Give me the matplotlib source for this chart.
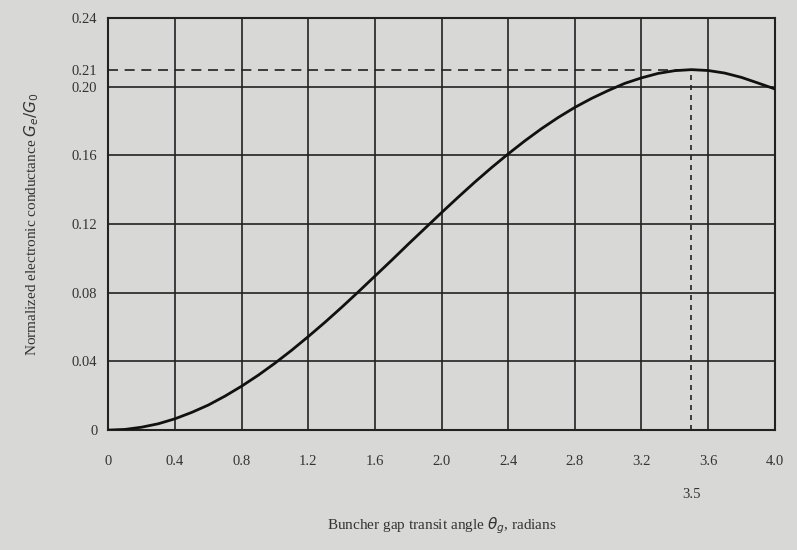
import matplotlib
matplotlib.use("Agg")
import matplotlib.pyplot as plt

# Data
theta = [0.0, 0.1, 0.2, 0.3, 0.4, 0.5, 0.6, 0.7, 0.8, 0.9, 1.0, 1.1, 1.2,
         1.3, 1.4, 1.5, 1.6, 1.7, 1.8, 1.9, 2.0, 2.1, 2.2, 2.3, 2.4, 2.5,
         2.6, 2.7, 2.8, 2.9, 3.0, 3.1, 3.2, 3.3, 3.4, 3.5, 3.6, 3.7, 3.8,
         3.9, 4.0]
conductance = [0.0, 0.0004, 0.0017, 0.0037, 0.0066, 0.0103, 0.0146, 0.0198,
               0.0256, 0.0320, 0.0390, 0.0465, 0.0545, 0.0628, 0.0715,
               0.0805, 0.0897, 0.0989, 0.1083, 0.1175, 0.1267, 0.1357,
               0.1445, 0.1529, 0.1609, 0.1685, 0.1756, 0.1821, 0.1880,
               0.1932, 0.1978, 0.2020, 0.2052, 0.2078, 0.2094, 0.2100,
               0.2095, 0.2080, 0.2055, 0.2022, 0.1988]
x_ticks = [0, 0.4, 0.8, 1.2, 1.6, 2.0, 2.4, 2.8, 3.2, 3.6, 4.0]
x_tick_labels = ["0", "0.4", "0.8", "1.2", "1.6", "2.0", "2.4", "2.8", "3.2", "3.6", "4.0"]
y_ticks = [0, 0.04, 0.08, 0.12, 0.16, 0.20, 0.21, 0.24]
y_tick_labels = ["0", "0.04", "0.08", "0.12", "0.16", "0.20", "0.21", "0.24"]
peak_theta = 3.5
peak_value = 0.21

plt.rcParams['font.family'] = ['Liberation Serif', 'DejaVu Serif']

fig = plt.figure(figsize=(7.97, 5.5), dpi=100)
bg = '#d8d8d6'
fig.patch.set_facecolor(bg)
ax = fig.add_axes([0.136, 0.218, 0.836, 0.749])
ax.set_facecolor(bg)

ax.set_xlim(0, 4.0)
ax.set_ylim(0, 0.24)

# grid
for xv in x_ticks[1:-1]:
    ax.axvline(xv, color='#222222', lw=1.2, zorder=1)
for yv in [0.04, 0.08, 0.12, 0.16, 0.20]:
    ax.axhline(yv, color='#222222', lw=1.2, zorder=1)

# dashed reference lines
ax.plot([0, peak_theta], [peak_value, peak_value], color='#222222', lw=1.2,
        ls=(0, (6, 4)), zorder=2)
ax.plot([peak_theta, peak_theta], [0, peak_value], color='#222222', lw=1.2,
        ls=(0, (3, 3)), zorder=2)

ax.plot(theta, conductance, color='#111111', lw=2.0, zorder=3)

for s in ax.spines.values():
    s.set_linewidth(1.5)
    s.set_color('#222222')

ax.set_xticks(x_ticks)
ax.set_xticklabels(x_tick_labels, fontsize=10.5, color='#333333')
ax.set_yticks(y_ticks)
ax.set_yticklabels(y_tick_labels, fontsize=10.5, color='#333333')
ax.tick_params(axis='x', length=0, pad=18)
ax.tick_params(axis='y', length=0, pad=8)

ax.annotate("3.5", xy=(peak_theta, 0), xycoords='data', xytext=(0, -42),
            textcoords='offset points', ha='center', va='top', fontsize=10.5,
            color='#333333')

ax.set_xlabel(r"Buncher gap transit angle $\theta_g$, radians", fontsize=11,
              color='#333333', labelpad=34)
ax.set_ylabel(r"Normalized electronic conductance $G_e/G_0$", fontsize=11,
              color='#333333', labelpad=22)

fig.savefig("out.png", dpi=100, facecolor=bg)
